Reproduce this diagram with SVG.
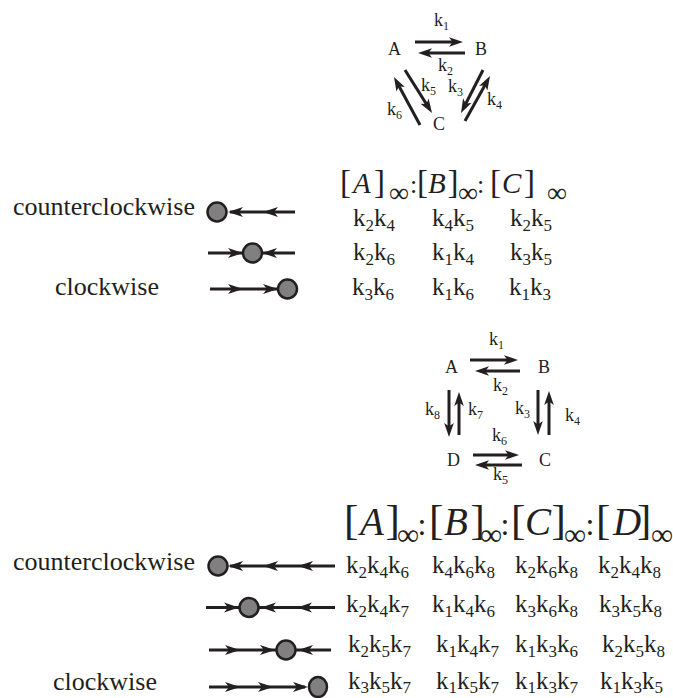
<svg xmlns="http://www.w3.org/2000/svg" xmlns:xlink="http://www.w3.org/1999/xlink" width="673" height="698" viewBox="0 0 673 698">
  <style>
    text { font-family: "Liberation Serif", "Times New Roman", serif; fill: #231f20; }
    .g { font-size: 18px; }
    .gs { font-size: 12px; }
    .lab { font-size: 26px; }
    .tb { font-size: 25px; }
    .ts { font-size: 17px; }
    .it { font-style: italic; }
    .ln { stroke: #231f20; stroke-width: 3; fill: none; }
    .hd { fill: #231f20; }
    .dot { fill: #808080; stroke: #231f20; stroke-width: 2.5; }
    .br3 { font-size: 33px; }
    .lt3 { font-size: 29px; font-style: italic; }
    .inf3 { font-size: 28px; }
    .col3 { font-size: 26px; }
    .br4 { font-size: 43px; }
    .lt4 { font-size: 39px; font-style: italic; }
    .inf4 { font-size: 31px; }
    .col4 { font-size: 32px; }
  </style>
  <defs>
    <!-- arrowheads, tip at origin -->
    <path id="gR" class="hd" d="M0,0 L-14,-4.8 L-10.5,0 L-14,4.8 Z"/>
    <path id="hR" class="hd" d="M0,0 L-15,-5 L-11,0 L-15,5 Z"/>
    <path id="hL" class="hd" d="M0,0 L15,-5 L11,0 L15,5 Z"/>
  </defs>

  <!-- three-species cycle -->
  <g id="graph3">
    <g id="g3-A"><text class="g" x="388" y="55">A</text></g>
    <g id="g3-B"><text class="g" x="475" y="55">B</text></g>
    <g id="g3-C"><text class="g" x="433" y="130">C</text></g>
    <g id="g3-connectors">
      <line class="ln" x1="415" y1="42" x2="457" y2="42"/>
      <use href="#gR" transform="translate(463,42)"/>
      <line class="ln" x1="465" y1="53" x2="424" y2="53"/>
      <use href="#gR" transform="translate(418,53) rotate(180)"/>
      <line class="ln" x1="405" y1="70" x2="428.8" y2="107.9"/>
      <use href="#gR" transform="translate(432,113) rotate(57.9)"/>
      <line class="ln" x1="420" y1="125" x2="396.9" y2="82.3"/>
      <use href="#gR" transform="translate(394,77) rotate(-118.4)"/>
      <line class="ln" x1="483" y1="70" x2="463.7" y2="107.7"/>
      <use href="#gR" transform="translate(461,113) rotate(117.1)"/>
      <line class="ln" x1="465" y1="121" x2="487.1" y2="81.2"/>
      <use href="#gR" transform="translate(490,76) rotate(-60.9)"/>
    </g>
    <g id="g3-rates">
      <text class="g" x="434" y="26">k<tspan class="gs" dy="4">1</tspan></text>
      <text class="g" x="438" y="71">k<tspan class="gs" dy="4">2</tspan></text>
      <text class="g" x="421" y="91">k<tspan class="gs" dy="4">5</tspan></text>
      <text class="g" x="448" y="92">k<tspan class="gs" dy="4">3</tspan></text>
      <text class="g" x="487" y="105">k<tspan class="gs" dy="4">4</tspan></text>
      <text class="g" x="387" y="115">k<tspan class="gs" dy="4">6</tspan></text>
    </g>
  </g>

  <!-- three-species flux directions -->
  <g id="dir3">
    <text class="lab" x="13" y="215">counterclockwise</text>
    <text class="lab" x="55" y="295">clockwise</text>
    <g id="d3-row1">
      <line class="ln" x1="230" y1="212" x2="295" y2="212"/>
      <use href="#hL" x="228" y="212"/>
      <use href="#hL" x="263" y="212"/>
      <circle class="dot" cx="217" cy="212" r="9.5"/>
    </g>
    <g id="d3-row2">
      <line class="ln" x1="208" y1="253" x2="295" y2="253"/>
      <use href="#hR" x="243" y="253"/>
      <use href="#hL" x="262" y="253"/>
      <circle class="dot" cx="252.5" cy="253" r="9.5"/>
    </g>
    <g id="d3-row3">
      <line class="ln" x1="210" y1="289" x2="280" y2="289"/>
      <use href="#hR" x="243" y="289"/>
      <use href="#hR" x="278" y="289"/>
      <circle class="dot" cx="287.5" cy="289" r="9.5"/>
    </g>
  </g>

  <!-- three-species steady-state ratios -->
  <g id="table3">
    <g id="t3-head">
      <text class="br3" x="340" y="193">[</text>
      <text class="lt3" x="353" y="193">A</text>
      <text class="br3" x="374" y="193">]</text>
      <text class="inf3" x="389" y="202">∞</text>
      <text class="col3" x="410" y="193">:</text>
      <text class="br3" x="417" y="193">[</text>
      <text class="lt3" x="428" y="193">B</text>
      <text class="br3" x="447.5" y="193">]</text>
      <text class="inf3" x="458" y="202">∞</text>
      <text class="col3" x="477" y="193">:</text>
      <text class="br3" x="490" y="193">[</text>
      <text class="lt3" x="502" y="193">C</text>
      <text class="br3" x="524" y="193">]</text>
      <text class="inf3" x="547" y="202">∞</text>
    </g>
    <g id="t3-body">
      <text class="tb" x="353" y="226">k<tspan class="ts" dy="5">2</tspan><tspan dy="-5">k</tspan><tspan class="ts" dy="5">4</tspan></text>
      <text class="tb" x="432" y="226">k<tspan class="ts" dy="5">4</tspan><tspan dy="-5">k</tspan><tspan class="ts" dy="5">5</tspan></text>
      <text class="tb" x="510" y="226">k<tspan class="ts" dy="5">2</tspan><tspan dy="-5">k</tspan><tspan class="ts" dy="5">5</tspan></text>
      <text class="tb" x="353" y="260">k<tspan class="ts" dy="5">2</tspan><tspan dy="-5">k</tspan><tspan class="ts" dy="5">6</tspan></text>
      <text class="tb" x="432" y="260">k<tspan class="ts" dy="5">1</tspan><tspan dy="-5">k</tspan><tspan class="ts" dy="5">4</tspan></text>
      <text class="tb" x="510" y="260">k<tspan class="ts" dy="5">3</tspan><tspan dy="-5">k</tspan><tspan class="ts" dy="5">5</tspan></text>
      <text class="tb" x="352" y="295">k<tspan class="ts" dy="5">3</tspan><tspan dy="-5">k</tspan><tspan class="ts" dy="5">6</tspan></text>
      <text class="tb" x="432" y="295">k<tspan class="ts" dy="5">1</tspan><tspan dy="-5">k</tspan><tspan class="ts" dy="5">6</tspan></text>
      <text class="tb" x="509" y="295">k<tspan class="ts" dy="5">1</tspan><tspan dy="-5">k</tspan><tspan class="ts" dy="5">3</tspan></text>
    </g>
  </g>

  <!-- four-species cycle -->
  <g id="graph4">
    <g id="g4-A"><text class="g" x="445" y="373">A</text></g>
    <g id="g4-B"><text class="g" x="538" y="373">B</text></g>
    <g id="g4-C"><text class="g" x="539" y="466">C</text></g>
    <g id="g4-D"><text class="g" x="447" y="466">D</text></g>
    <g id="g4-connectors">
      <line class="ln" x1="470" y1="360" x2="512" y2="360"/>
      <use href="#gR" transform="translate(518,360)"/>
      <line class="ln" x1="520" y1="371" x2="481" y2="371"/>
      <use href="#gR" transform="translate(475,371) rotate(180)"/>
      <line class="ln" x1="449" y1="390" x2="449" y2="431"/>
      <use href="#gR" transform="translate(449,437) rotate(90)"/>
      <line class="ln" x1="459" y1="435" x2="459" y2="398"/>
      <use href="#gR" transform="translate(459,392) rotate(-90)"/>
      <line class="ln" x1="538" y1="390" x2="538" y2="429"/>
      <use href="#gR" transform="translate(538,435) rotate(90)"/>
      <line class="ln" x1="549" y1="435" x2="549" y2="397"/>
      <use href="#gR" transform="translate(549,391) rotate(-90)"/>
      <line class="ln" x1="473" y1="455" x2="513" y2="455"/>
      <use href="#gR" transform="translate(519,455)"/>
      <line class="ln" x1="522" y1="465" x2="481" y2="465"/>
      <use href="#gR" transform="translate(475,465) rotate(180)"/>
    </g>
    <g id="g4-rates">
      <text class="g" x="489" y="345">k<tspan class="gs" dy="4">1</tspan></text>
      <text class="g" x="493" y="391">k<tspan class="gs" dy="4">2</tspan></text>
      <text class="g" x="425" y="415">k<tspan class="gs" dy="4">8</tspan></text>
      <text class="g" x="468" y="415">k<tspan class="gs" dy="4">7</tspan></text>
      <text class="g" x="515" y="414">k<tspan class="gs" dy="4">3</tspan></text>
      <text class="g" x="565" y="421">k<tspan class="gs" dy="4">4</tspan></text>
      <text class="g" x="492" y="441">k<tspan class="gs" dy="4">6</tspan></text>
      <text class="g" x="493" y="480">k<tspan class="gs" dy="4">5</tspan></text>
    </g>
  </g>

  <!-- four-species flux directions -->
  <g id="dir4">
    <text class="lab" x="13" y="570">counterclockwise</text>
    <text class="lab" x="53" y="690">clockwise</text>
    <g id="d4-row1">
      <line class="ln" x1="230" y1="566" x2="335" y2="566"/>
      <use href="#hL" x="228" y="566"/>
      <use href="#hL" x="263" y="566"/>
      <use href="#hL" x="298" y="566"/>
      <circle class="dot" cx="218" cy="566" r="9.5"/>
    </g>
    <g id="d4-row2">
      <line class="ln" x1="206" y1="607.5" x2="335" y2="607.5"/>
      <use href="#hR" x="239" y="607.5"/>
      <use href="#hL" x="261" y="607.5"/>
      <use href="#hL" x="297" y="607.5"/>
      <circle class="dot" cx="249" cy="607.5" r="9.5"/>
    </g>
    <g id="d4-row3">
      <line class="ln" x1="209" y1="650" x2="331" y2="650"/>
      <use href="#hR" x="240" y="650"/>
      <use href="#hR" x="275" y="650"/>
      <use href="#hL" x="298" y="650"/>
      <circle class="dot" cx="286" cy="650" r="9.5"/>
    </g>
    <g id="d4-row4">
      <line class="ln" x1="209" y1="687" x2="305" y2="687"/>
      <use href="#hR" x="240" y="687"/>
      <use href="#hR" x="273" y="687"/>
      <use href="#hR" x="308" y="687"/>
      <ellipse class="dot" cx="318" cy="687" rx="9" ry="10"/>
    </g>
  </g>

  <!-- four-species steady-state ratios -->
  <g id="table4">
    <g id="t4-head">
      <text class="br4" x="344" y="534">[</text>
      <text class="lt4" x="360" y="535">A</text>
      <text class="br4" x="385.5" y="534">]</text>
      <text class="inf4" x="397" y="545">∞</text>
      <text class="col4" x="417.5" y="535">:</text>
      <text class="br4" x="429" y="534">[</text>
      <text class="lt4" x="444" y="535">B</text>
      <text class="br4" x="470.5" y="534">]</text>
      <text class="inf4" x="480" y="545">∞</text>
      <text class="col4" x="500.5" y="535">:</text>
      <text class="br4" x="511" y="534">[</text>
      <text class="lt4" x="525" y="535">C</text>
      <text class="br4" x="551.5" y="534">]</text>
      <text class="inf4" x="564" y="545">∞</text>
      <text class="col4" x="585.5" y="535">:</text>
      <text class="br4" x="596" y="534">[</text>
      <text class="lt4" x="613" y="535">D</text>
      <text class="br4" x="637" y="534">]</text>
      <text class="inf4" x="651" y="545">∞</text>
    </g>
    <g id="t4-body">
      <text class="tb" x="346" y="573">k<tspan class="ts" dy="5">2</tspan><tspan dy="-5">k</tspan><tspan class="ts" dy="5">4</tspan><tspan dy="-5">k</tspan><tspan class="ts" dy="5">6</tspan></text>
      <text class="tb" x="432" y="573">k<tspan class="ts" dy="5">4</tspan><tspan dy="-5">k</tspan><tspan class="ts" dy="5">6</tspan><tspan dy="-5">k</tspan><tspan class="ts" dy="5">8</tspan></text>
      <text class="tb" x="515" y="573">k<tspan class="ts" dy="5">2</tspan><tspan dy="-5">k</tspan><tspan class="ts" dy="5">6</tspan><tspan dy="-5">k</tspan><tspan class="ts" dy="5">8</tspan></text>
      <text class="tb" x="598" y="573">k<tspan class="ts" dy="5">2</tspan><tspan dy="-5">k</tspan><tspan class="ts" dy="5">4</tspan><tspan dy="-5">k</tspan><tspan class="ts" dy="5">8</tspan></text>

      <text class="tb" x="346" y="612">k<tspan class="ts" dy="5">2</tspan><tspan dy="-5">k</tspan><tspan class="ts" dy="5">4</tspan><tspan dy="-5">k</tspan><tspan class="ts" dy="5">7</tspan></text>
      <text class="tb" x="432" y="612">k<tspan class="ts" dy="5">1</tspan><tspan dy="-5">k</tspan><tspan class="ts" dy="5">4</tspan><tspan dy="-5">k</tspan><tspan class="ts" dy="5">6</tspan></text>
      <text class="tb" x="515" y="612">k<tspan class="ts" dy="5">3</tspan><tspan dy="-5">k</tspan><tspan class="ts" dy="5">6</tspan><tspan dy="-5">k</tspan><tspan class="ts" dy="5">8</tspan></text>
      <text class="tb" x="599" y="612">k<tspan class="ts" dy="5">3</tspan><tspan dy="-5">k</tspan><tspan class="ts" dy="5">5</tspan><tspan dy="-5">k</tspan><tspan class="ts" dy="5">8</tspan></text>

      <text class="tb" x="348" y="652">k<tspan class="ts" dy="5">2</tspan><tspan dy="-5">k</tspan><tspan class="ts" dy="5">5</tspan><tspan dy="-5">k</tspan><tspan class="ts" dy="5">7</tspan></text>
      <text class="tb" x="436" y="652">k<tspan class="ts" dy="5">1</tspan><tspan dy="-5">k</tspan><tspan class="ts" dy="5">4</tspan><tspan dy="-5">k</tspan><tspan class="ts" dy="5">7</tspan></text>
      <text class="tb" x="515" y="652">k<tspan class="ts" dy="5">1</tspan><tspan dy="-5">k</tspan><tspan class="ts" dy="5">3</tspan><tspan dy="-5">k</tspan><tspan class="ts" dy="5">6</tspan></text>
      <text class="tb" x="602" y="652">k<tspan class="ts" dy="5">2</tspan><tspan dy="-5">k</tspan><tspan class="ts" dy="5">5</tspan><tspan dy="-5">k</tspan><tspan class="ts" dy="5">8</tspan></text>

      <text class="tb" x="348" y="689">k<tspan class="ts" dy="4">3</tspan><tspan dy="-4">k</tspan><tspan class="ts" dy="4">5</tspan><tspan dy="-4">k</tspan><tspan class="ts" dy="4">7</tspan></text>
      <text class="tb" x="436" y="689">k<tspan class="ts" dy="4">1</tspan><tspan dy="-4">k</tspan><tspan class="ts" dy="4">5</tspan><tspan dy="-4">k</tspan><tspan class="ts" dy="4">7</tspan></text>
      <text class="tb" x="515" y="689">k<tspan class="ts" dy="4">1</tspan><tspan dy="-4">k</tspan><tspan class="ts" dy="4">3</tspan><tspan dy="-4">k</tspan><tspan class="ts" dy="4">7</tspan></text>
      <text class="tb" x="600" y="689">k<tspan class="ts" dy="4">1</tspan><tspan dy="-4">k</tspan><tspan class="ts" dy="4">3</tspan><tspan dy="-4">k</tspan><tspan class="ts" dy="4">5</tspan></text>
    </g>
  </g>
</svg>
